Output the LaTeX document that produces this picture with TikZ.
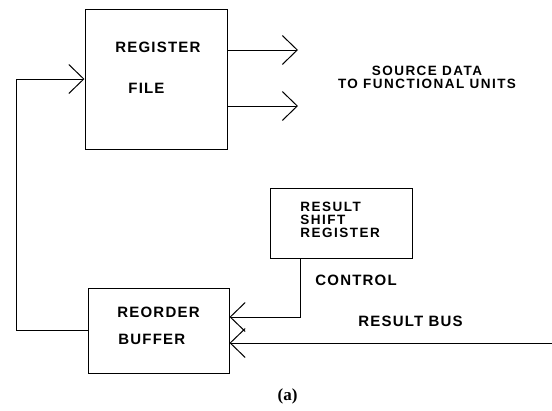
\documentclass[tikz,border=0pt]{standalone}
\usepackage{fontspec}
\usetikzlibrary{arrows.meta}
\newfontfamily\lblfont[LetterSpace=8]{Liberation Sans Bold}
\newfontfamily\lblfontwide[LetterSpace=11]{Liberation Sans Bold}
\newfontfamily\capfont{Liberation Serif Bold}
\begin{document}
\begin{tikzpicture}[x=1pt,y=-1pt,line width=.8pt,
    >={Straight Barb[length=15pt,width=29pt,line width=1pt]}]

        \useasboundingbox (0,0) rectangle (552,410);

        \begin{scope}[every node/.style={rectangle,draw,line width=1pt,inner sep=0pt}]
          \node[minimum width=142pt,minimum height=140pt] (regfile) at (156,79)  {};
          \node[minimum width=141pt,minimum height=85pt]  (robuf)   at (158.5,330.5) {};
          \node[minimum width=142pt,minimum height=70pt]  (shreg)   at (341,223) {};
        \end{scope}

        \begin{scope}[every node/.style={anchor=base west,inner sep=0pt,
            font=\lblfont\fontsize{15}{11.5}\selectfont}]
          \node (t1) at (115,52)  {REGISTER};
          \node (t2) at (128,93)  {FILE};
          \node (t3) at (117,317) {REORDER};
          \node (t4) at (118,344) {BUFFER};
          \node[align=left,font=\lblfontwide\fontsize{13.5}{12.6}\selectfont] (t5) at (300,237) {RESULT\\SHIFT\\REGISTER};
          \node (t8) at (315,285) {CONTROL};
          \node (t9) at (358,326) {RESULT BUS};
          \node[anchor=base,align=center,font=\lblfontwide\fontsize{13.5}{12.6}\selectfont] (t10) at (427,88.5) {SOURCE DATA\\TO FUNCTIONAL UNITS};
        \end{scope}

        \node[font=\capfont\fontsize{17}{17}\selectfont] (cap) at (287.5,396) {(a)};

        \coordinate (src1) at (298,50);
        \coordinate (src2) at (298,106);
        \coordinate (fb)   at (16,79);
        \coordinate (ctl)  at (300,317);
        \coordinate (bus)  at (552,343);

        \draw[->] (regfile.east |- src1) -- (src1);
        \draw[->] (regfile.east |- src2) -- (src2);
        \draw[->] (robuf.west) -| (fb) -- (regfile.west);
        \draw[->] (shreg.south -| ctl) -- (ctl) -- (robuf.east |- ctl);
        \draw[->] (bus) -- (robuf.east |- bus);

      \end{tikzpicture}
\end{document}
